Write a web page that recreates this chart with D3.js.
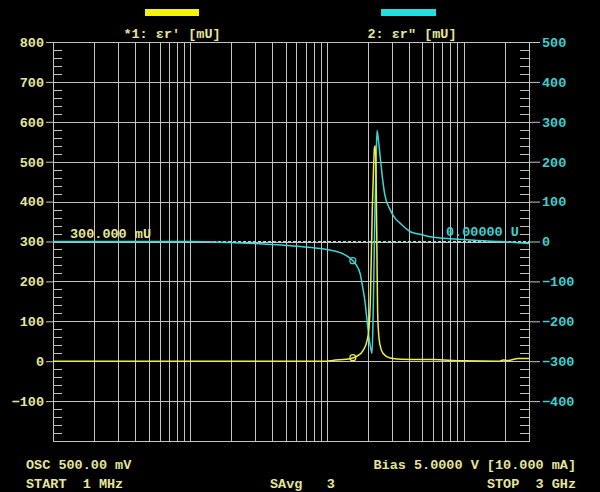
<!DOCTYPE html>
<html><head><meta charset="utf-8">
<script src="https://cdn.jsdelivr.net/npm/d3@7"></script>
<style>html,body{margin:0;padding:0;background:#000;}svg{display:block;}</style>
</head><body><svg id="c" width="600" height="492"></svg>
<script>
// ---- data (frequency in MHz) ----
const epsRealFreq = [1, 10, 100, 110, 150, 165, 185, 197, 203, 208, 212, 215, 219, 223, 226, 229, 232, 235, 239, 245, 257, 290, 343, 600, 1000, 1800, 1950, 2100, 2500, 3000];
const epsRealVal  = [0, 0, 0, 2, 7, 12, 28, 52, 80, 150, 280, 380, 470, 535, 540, 470, 300, 130, 70, 40, 20, 8, 5, 4, 1, 0, 3, 2, 7, 7];
const epsImagFreq = [1, 10, 14.7, 30, 60, 100, 130, 155, 165, 175, 182, 190, 195, 200, 205, 210, 214, 219, 224, 229, 233, 239, 245, 257, 265, 290, 313, 343, 405, 480, 568, 670, 800, 1200, 1840, 3000];
const epsImagVal  = [0, 0, -1, -5, -12, -20, -30, -48, -60, -80, -110, -150, -185, -220, -250, -270, -281, -150, 50, 200, 278, 250, 215, 150, 118, 80, 60, 46, 25, 18, 12, 9, 7, 3, 0, -5];
const markerFreq = [155];
const leftTicks  = [800, 700, 600, 500, 400, 300, 200, 100, 0, -100];
const rightTicks = [500, 400, 300, 200, 100, 0, -100, -200, -300, -400];
const refLeft = 300, refRight = 0;
const trace1Label = "*1: \u03b5r' [mU]";
const trace2Label = "2: \u03b5r\" [mU]";
const refLeftLabel = "300.000 mU";
const refRightLabel = "0.00000 U";
const footer = ["OSC 500.00 mV", "START  1 MHz", "SAvg   3", "Bias 5.0000 V [10.000 mA]", "STOP  3 GHz"];

// ---- layout ----
const L = 53, R = 529, T = 42, B = 441;
const svg = d3.select("#c");
svg.append("rect").attr("width",600).attr("height",492).attr("fill","#000");
const x = d3.scaleLog().domain([1, 3000]).range([L, R]);
const yL = d3.scaleLinear().domain([-200, 800]).range([B, T]);
const yR = d3.scaleLinear().domain([-500, 500]).range([B, T]);
const gridC = "#c4c4c4", yTxt = "#e6e69a", cTxt = "#3fcfcf";
const font = "'Liberation Mono','DejaVu Sans Mono',monospace";

// vertical log grid
const vlines = [];
for (let dec = 1; dec < 3000; dec *= 10) for (let m = 1; m <= 9; m++) { const f = m*dec; if (f > 1 && f < 3000) vlines.push(f); }
svg.append("g").selectAll("line").data(vlines).join("line")
  .attr("x1", d => Math.round(x(d))+0.5).attr("x2", d => Math.round(x(d))+0.5)
  .attr("y1", T).attr("y2", B).attr("stroke", gridC).attr("stroke-width", 1);

// horizontal grid lines from left ticks
svg.append("g").selectAll("line").data(leftTicks.concat([-200])).join("line")
  .attr("x1", L).attr("x2", R).attr("y1", d => Math.round(yL(d))+0.5).attr("y2", d => Math.round(yL(d))+0.5)
  .attr("stroke", gridC).attr("stroke-width", 1);
// border
svg.append("rect").attr("x", L+0.5).attr("y", T+0.5).attr("width", R-L).attr("height", B-T)
  .attr("fill","none").attr("stroke", gridC);

// axes via d3
const axL = d3.axisLeft(yL).tickValues(leftTicks).tickSize(7).tickPadding(2);
const gL = svg.append("g").attr("transform", `translate(${L},0)`).call(axL);
gL.select(".domain").remove();
gL.selectAll("line").attr("stroke", gridC);
gL.selectAll("text").attr("fill", yTxt).attr("font-family", font).attr("font-size", 13.5).attr("font-weight","bold");
const axR = d3.axisRight(yR).tickValues(rightTicks).tickSize(11).tickPadding(2);
const gR = svg.append("g").attr("transform", `translate(${R},0)`).call(axR);
gR.select(".domain").remove();
gR.selectAll("line").attr("stroke", gridC);
gR.selectAll("text").attr("fill", cTxt).attr("font-family", font).attr("font-size", 13.5).attr("font-weight","bold");

// minor ticks inside
const minorL = d3.range(-180, 800, 20).filter(v => v % 100 !== 0);
svg.append("g").selectAll("line").data(minorL).join("line")
  .attr("x1", L).attr("x2", L+9).attr("y1", d => Math.round(yL(d))+0.5).attr("y2", d => Math.round(yL(d))+0.5)
  .attr("stroke", gridC);
const minorR = d3.range(-480, 500, 20).filter(v => v % 100 !== 0);
svg.append("g").selectAll("line").data(minorR).join("line")
  .attr("x1", R-9).attr("x2", R).attr("y1", d => Math.round(yR(d))+0.5).attr("y2", d => Math.round(yR(d))+0.5)
  .attr("stroke", gridC);

// reference line (dashed)
svg.append("line").attr("x1", L).attr("x2", R).attr("y1", yL(refLeft)).attr("y2", yL(refLeft))
  .attr("stroke", "#9fe6e6").attr("stroke-width", 1).attr("stroke-dasharray", "3,2");

// traces
const lineL = d3.line().x(d => x(d[0])).y(d => yL(d[1])).curve(d3.curveMonotoneX);
const lineR = d3.line().x(d => x(d[0])).y(d => yR(d[1])).curve(d3.curveMonotoneX);
const d1 = epsRealFreq.map((f,i) => [f, epsRealVal[i]]);
const d2 = epsImagFreq.map((f,i) => [f, epsImagVal[i]]);
svg.append("path").datum(d2).attr("d", lineR).attr("fill","none").attr("stroke","#3fd6d6").attr("stroke-width",1.5);
svg.append("path").datum(d1).attr("d", lineL).attr("fill","none").attr("stroke","#eeee44").attr("stroke-width",1.5);

// markers
const interp = (fa, va, f) => { const lf = Math.log(f); for (let i=0;i<fa.length-1;i++){ if (f>=fa[i]&&f<=fa[i+1]){ const t=(lf-Math.log(fa[i]))/(Math.log(fa[i+1])-Math.log(fa[i])); return va[i]+t*(va[i+1]-va[i]); } } return 0; };
markerFreq.forEach(f => {
  svg.append("circle").attr("cx", x(f)).attr("cy", yR(interp(epsImagFreq, epsImagVal, f))).attr("r", 3)
    .attr("fill","none").attr("stroke","#3fd6d6").attr("stroke-width",1.2);
  svg.append("circle").attr("cx", x(f)).attr("cy", yL(interp(epsRealFreq, epsRealVal, f))).attr("r", 3)
    .attr("fill","none").attr("stroke","#eeee44").attr("stroke-width",1.2);
});

// reference labels
const txt = (s, xx, yy, col, anchor) => svg.append("text").attr("x", xx).attr("y", yy).text(s)
  .attr("fill", col).attr("font-family", font).attr("font-size", 13.5).attr("font-weight","bold")
  .attr("text-anchor", anchor || "start").attr("xml:space","preserve").style("white-space","pre");
txt(refLeftLabel, 70, 238, yTxt);
txt(refRightLabel, 446, 236, cTxt);

// legend
svg.append("rect").attr("x",145).attr("y",9).attr("width",54).attr("height",7).attr("fill","#f2f20a");
svg.append("rect").attr("x",381).attr("y",9).attr("width",55).attr("height",7).attr("fill","#22dede");
txt(trace1Label, 172, 38, yTxt, "middle");
txt(trace2Label, 412, 38, yTxt, "middle");

// footer
txt(footer[0], 26, 469, yTxt);
txt(footer[1], 26, 488, yTxt);
txt(footer[2], 270, 488, yTxt);
txt(footer[3], 576, 469, yTxt, "end");
txt(footer[4], 576, 488, yTxt, "end");
</script></body></html>
